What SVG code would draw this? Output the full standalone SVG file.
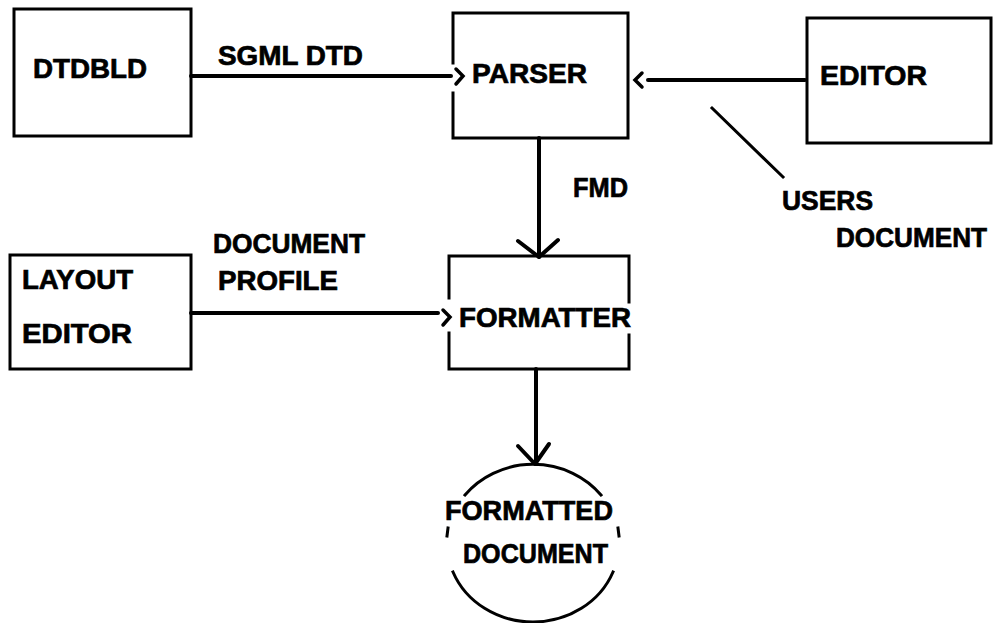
<svg xmlns="http://www.w3.org/2000/svg" width="995" height="623" viewBox="0 0 995 623">
<style>
  .box { fill: none; stroke: #000; stroke-width: 3; stroke-linecap: square; }
  .ln { fill: none; stroke: #000; stroke-width: 4; stroke-linecap: round; stroke-linejoin: round; }
  .chev { fill: none; stroke: #000; stroke-width: 3.5; stroke-linecap: round; stroke-linejoin: miter; }
  .t { font-family: "Liberation Sans", Arial, sans-serif; font-weight: bold; font-size: 27px; fill: #000; stroke: #000; stroke-width: 0.7; }
</style>
<rect width="995" height="623" fill="#fff"/>

<g id="dtdbld">
  <rect class="box" x="14" y="9" width="177" height="127"/>
  <text class="t" x="33" y="78" textLength="114" lengthAdjust="spacingAndGlyphs">DTDBLD</text>
</g>

<g id="parser">
  <path class="box" d="M453,63 V13 H628 V138 H453 V93"/>
  <text class="t" x="472" y="83" textLength="115" lengthAdjust="spacingAndGlyphs">PARSER</text>
</g>

<g id="editor">
  <rect class="box" x="807" y="18" width="184" height="125"/>
  <text class="t" x="820" y="85" textLength="107" lengthAdjust="spacingAndGlyphs">EDITOR</text>
</g>

<g id="layout-editor">
  <rect class="box" x="10" y="255" width="181" height="114"/>
  <text class="t" x="22" y="289" textLength="111" lengthAdjust="spacingAndGlyphs">LAYOUT</text>
  <text class="t" x="22" y="343" textLength="110" lengthAdjust="spacingAndGlyphs">EDITOR</text>
</g>

<g id="formatter">
  <path class="box" d="M449,298 V256 H629 V302 M629,335 V369 H449 V333"/>
  <text class="t" x="459" y="327" textLength="172" lengthAdjust="spacingAndGlyphs">FORMATTER</text>
</g>

<g id="formatted-document">
  <path class="box" d="M465,495 A86,79 0 0 1 601,495"/>
  <path class="box" d="M453,572 A86,79 0 0 0 613,572"/>
  <path class="box" d="M448,528 L447,536"/>
  <path class="box" d="M618,528 L619,536"/>
  <text class="t" x="445" y="520" textLength="168" lengthAdjust="spacingAndGlyphs">FORMATTED</text>
  <text class="t" x="463" y="563" textLength="145" lengthAdjust="spacingAndGlyphs">DOCUMENT</text>
</g>

<g id="connectors">
  <!-- DTDBLD -> PARSER -->
  <path class="ln" d="M191,76 H451"/>
  <path class="chev" d="M456,69 L463,76 L456,84"/>
  <text class="t" x="218" y="65" textLength="145" lengthAdjust="spacingAndGlyphs">SGML DTD</text>

  <!-- EDITOR -> PARSER -->
  <path class="ln" d="M648,80 H805"/>
  <path class="chev" d="M642,73 L635,80 L642,87"/>
  <path class="box" d="M712,108 L783,177"/>
  <text class="t" x="782" y="210" textLength="91" lengthAdjust="spacingAndGlyphs">USERS</text>
  <text class="t" x="836" y="247" textLength="151" lengthAdjust="spacingAndGlyphs">DOCUMENT</text>

  <!-- PARSER -> FORMATTER -->
  <path class="ln" d="M539,138 V257"/>
  <path class="ln" d="M518,241 L539,257 L558,240"/>
  <text class="t" x="573" y="197" textLength="55" lengthAdjust="spacingAndGlyphs">FMD</text>

  <!-- LAYOUT EDITOR -> FORMATTER -->
  <path class="ln" d="M191,313 H438"/>
  <path class="chev" d="M443,310 L450,317 L443,325"/>
  <text class="t" x="213" y="253" textLength="152" lengthAdjust="spacingAndGlyphs">DOCUMENT</text>
  <text class="t" x="218" y="290" textLength="120" lengthAdjust="spacingAndGlyphs">PROFILE</text>

  <!-- FORMATTER -> FORMATTED DOCUMENT -->
  <path class="ln" d="M536,369 V464"/>
  <path class="ln" d="M518,446 L535,464 L549,444"/>
</g>
</svg>
